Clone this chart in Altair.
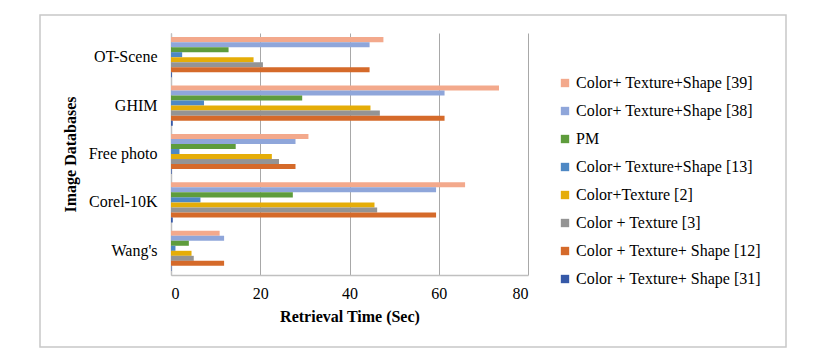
import altair as alt
import pandas as pd

databases = ["OT-Scene", "GHIM", "Free photo", "Corel-10K", "Wang's"]
series = [
    "Color+ Texture+Shape [39]",
    "Color+ Texture+Shape [38]",
    "PM",
    "Color+ Texture+Shape  [13]",
    "Color+Texture [2]",
    "Color + Texture  [3]",
    "Color + Texture+ Shape [12]",
    "Color + Texture+ Shape [31]",
]
colors = ["#F3A98C", "#8FA6DA", "#5E9C3C", "#4E88C4", "#E5AD08", "#949494", "#D56A2A", "#3659A8"]

# values per series, in database order
s39 = [47.6, 73.5, 30.8, 65.9, 10.9]
s38 = [44.5, 61.3, 27.9, 59.4, 11.9]
pm = [12.9, 29.4, 14.5, 27.3, 4.0]
s13 = [2.5, 7.4, 1.9, 6.6, 1.0]
s2 = [18.5, 44.7, 22.6, 45.6, 4.6]
s3 = [20.6, 46.8, 24.2, 46.2, 5.1]
s12 = [44.5, 61.3, 27.9, 59.4, 11.9]
s31 = [0.2, 0.4, 0.15, 0.4, 0.1]

all_vals = [s39, s38, pm, s13, s2, s3, s12, s31]
rows = []
for name, vals in zip(series, all_vals):
    for db, v in zip(databases, vals):
        rows.append({"db": db, "series": name, "time": v})
df = pd.DataFrame(rows)

FONT = "Liberation Serif"

bars = alt.Chart(df).mark_bar().encode(
    x=alt.X("time:Q", scale=alt.Scale(domain=[0, 80]),
            axis=alt.Axis(values=[0, 20, 40, 60, 80], title="Retrieval Time (Sec)",
                          grid=True, ticks=False, labelPadding=10, titlePadding=7)),
    y=alt.Y("db:N", sort=databases,
            scale=alt.Scale(paddingInner=0.17, paddingOuter=0.085),
            axis=alt.Axis(title="Image Databases", ticks=False, labelPadding=14,
                          titleX=-101, titleY=121, titleBaseline="middle", titleAlign="center")),
    yOffset=alt.YOffset("series:N", sort=series),
    color=alt.Color("series:N", sort=series,
                    scale=alt.Scale(domain=series, range=colors),
                    legend=alt.Legend(title=None, orient="none", legendX=386, legendY=42,
                                      symbolType="square", symbolSize=70, symbolStrokeWidth=0,
                                      labelFont=FONT, labelFontSize=16, labelColor="#000",
                                      rowPadding=12, labelOffset=3, padding=0, labelLimit=400)),
)

border = alt.Chart(alt.Data(values=[{}])).mark_rect(
    fill=None, stroke="#c8c8c8", strokeWidth=1.5
).encode(
    x=alt.value(-131), x2=alt.value(615), y=alt.value(-18), y2=alt.value(314)
)

chart = alt.layer(border, bars).properties(
    width=357, height=242,
    autosize=alt.AutoSizeParams(type="none"),
    padding={"left": 163, "top": 25, "right": 280, "bottom": 74},
    background="white",
).configure_view(stroke=None).configure_axis(
    labelFont=FONT, labelFontSize=16, labelColor="#000",
    titleFont=FONT, titleFontSize=16, titleFontWeight="bold", titleColor="#000",
    gridColor="#a8a8a8", gridWidth=1, domainColor="#c0c0c0", domainWidth=1.5,
)

chart.save("out.html", embed_options={"renderer": "svg", "actions": False})
